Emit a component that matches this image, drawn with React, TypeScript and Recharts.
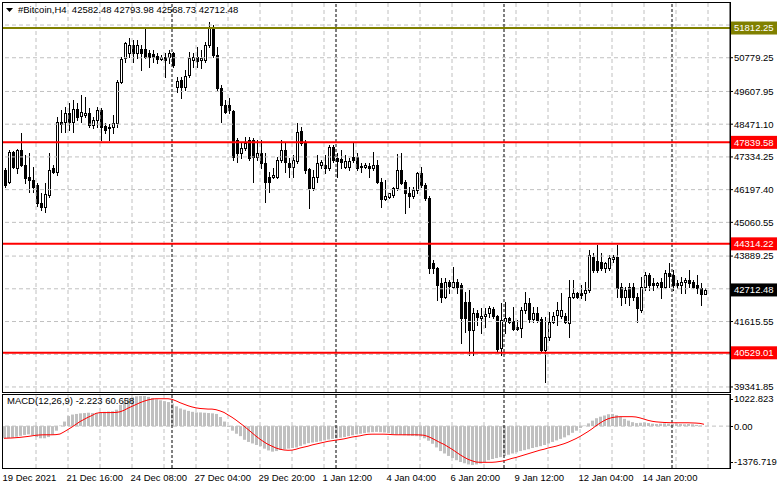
import { ComposedChart, Bar, Line, XAxis, YAxis, ReferenceLine } from 'recharts';

const opens = [
  46879, 46462, 47505, 46949, 47574, 47053, 46636, 46532, 46358, 45733,
  45594, 46011, 46949, 46810, 48547, 48547, 48859, 48547, 48998, 48755,
  48790, 48859, 48442, 48616, 48964, 48408, 48373, 48373, 48512, 49936,
  50770, 50944, 51222, 50944, 51083, 51083, 50944, 50909, 50840, 50735,
  50805, 50805, 50944, 49763, 50006, 49763, 50180, 50701, 50805, 50701,
  50701, 51222, 51847, 50874, 49728, 49137, 49137, 48929, 47921, 47470,
  47643, 47921, 47921, 47331, 47470, 47122, 46636, 46636, 46636, 47227,
  47574, 47122, 46983, 47192, 48234, 47817, 46914, 46254, 46636, 47053,
  47053, 46949, 47678, 47296, 47261, 46983, 46983, 47331, 47331, 47018,
  46983, 47018, 46949, 47053, 46462, 45872, 45941, 46011, 46254, 46879,
  46462, 46080, 45976, 46184, 46775, 46358, 45906, 43648, 43475, 42954,
  42467, 42988, 42815, 42988, 42884, 42294, 42294, 41321, 41911, 41738,
  41807, 41911, 42050, 41807, 40695, 41633, 41738, 41633, 41425, 41390,
  42016, 42259, 41703, 41911, 41703, 40626, 41078, 41599, 41842, 41807,
  41807, 41564, 42467, 42606, 42606, 42606, 42710, 43857, 43718, 43683,
  43475, 43475, 43787, 43857, 42815, 42467, 42815, 42815, 42467, 42016,
  42815, 43231, 42954, 42884, 42988, 42815, 43301, 43231, 42954, 42884,
  42988, 43058, 42988, 42884, 42780, 42582.48,
];

const highs = [
  46949, 47574, 47539, 47609, 48165, 47400, 47470, 46983, 46428, 46080,
  46428, 47470, 47053, 48720, 48964, 49068, 49207, 49311, 49207, 49485,
  49415, 49033, 48720, 49068, 49033, 48512, 48477, 48790, 50006, 50805,
  51326, 51465, 51395, 51395, 51222, 51800, 51048, 51048, 50944, 50874,
  50944, 51048, 50978, 50110, 50110, 50353, 50978, 50944, 51152, 51048,
  51326, 52021, 51916, 51152, 49832, 49311, 49380, 48964, 47991, 47817,
  48026, 48026, 47991, 47921, 47921, 47470, 46810, 46949, 47331, 47921,
  47817, 47296, 47400, 48512, 48373, 47921, 46949, 46879, 47400, 47227,
  47400, 47748, 47748, 47470, 47574, 47400, 47296, 47852, 47470, 47122,
  47122, 47122, 47505, 47227, 46601, 46532, 46080, 46289, 47435, 47470,
  46532, 46289, 46289, 46810, 46983, 46428, 45976, 43753, 43509, 43127,
  43127, 43058, 43509, 43092, 42954, 42641, 42710, 42085, 42016, 42085,
  42085, 42155, 42120, 41842, 42259, 42294, 41772, 42120, 41668, 42120,
  42641, 42432, 42120, 42120, 41772, 41772, 41946, 41946, 42294, 42606,
  41911, 43058, 43058, 42641, 42884, 42988, 44100, 43996, 44274, 43996,
  43683, 43926, 43926, 44274, 42954, 42815, 42954, 42954, 42606, 43162,
  43336, 43301, 43127, 42988, 43127, 43405, 43648, 43405, 43058, 43162,
  43127, 43405, 43058, 43231, 42954, 42793.98,
];

const lows = [
  46289, 46428, 46949, 46775, 47018, 46428, 46115, 46115, 45620, 45490,
  45420, 45941, 46775, 46705, 48199, 48199, 48269, 48199, 48616, 48547,
  48720, 48373, 48338, 48373, 47921, 48165, 47921, 48165, 48373, 49902,
  50631, 50805, 50631, 50770, 50353, 50770, 50457, 50631, 50596, 50701,
  50110, 50596, 50457, 49589, 49380, 49658, 50110, 50457, 50457, 50423,
  50631, 51152, 50805, 49658, 48547, 48859, 48859, 47227, 47157, 47296,
  47574, 47227, 46462, 47227, 46949, 45768, 46115, 46601, 46601, 47157,
  46810, 46636, 46636, 47122, 47748, 46775, 45559, 46184, 46462, 46949,
  46775, 46879, 47157, 46636, 46949, 46949, 46879, 47157, 46879, 46810,
  46949, 46636, 46879, 46428, 45594, 45837, 45906, 45941, 46184, 46393,
  45385, 45594, 45906, 46080, 46289, 45837, 43301, 43301, 42363, 42294,
  42432, 42606, 42780, 42606, 40869, 41251, 40452, 40452, 41494, 41217,
  41425, 41772, 41738, 40557, 40452, 41217, 41564, 41321, 41321, 41078,
  41911, 41599, 41599, 41599, 40591, 39514, 40973, 41564, 41494, 41738,
  41564, 41078, 42432, 42432, 42432, 42363, 42641, 43336, 43336, 43405,
  43336, 43405, 43683, 42467, 42189, 42259, 42189, 42363, 41599, 41946,
  42710, 42710, 42710, 42815, 42432, 42780, 42815, 42710, 42780, 42606,
  42606, 42815, 42780, 42606, 42189, 42568.73,
];

const closes = [
  46358, 47505, 46983, 47574, 47053, 46601, 46532, 46289, 45733, 45594,
  46045, 46879, 46810, 48547, 48477, 48859, 48547, 48998, 48720, 48894,
  48859, 48442, 48616, 48964, 48373, 48269, 48338, 48512, 49936, 50735,
  51291, 51222, 50944, 51222, 50944, 50805, 50805, 50805, 50735, 50805,
  50701, 50944, 50527, 49971, 49763, 50145, 50770, 50805, 50666, 50770,
  51222, 51847, 50874, 49728, 49137, 48894, 48964, 47331, 47470, 47643,
  47817, 47296, 47331, 47470, 47122, 46462, 46462, 46705, 47227, 47574,
  47157, 46983, 47227, 48199, 47817, 46879, 46254, 46636, 47122, 47157,
  46949, 47678, 47227, 47192, 47157, 47192, 47192, 47227, 46949, 46983,
  47053, 46949, 47053, 46462, 45872, 45976, 46080, 46254, 46879, 46428,
  46080, 45976, 46184, 46775, 46358, 45906, 43475, 43475, 42884, 42467,
  42988, 42849, 42988, 42815, 41738, 41738, 41321, 41911, 41772, 41807,
  41877, 42085, 41807, 40661, 41668, 41738, 41599, 41356, 41356, 42016,
  42259, 41703, 41911, 41668, 40626, 41078, 41599, 41807, 42016, 42016,
  41599, 42467, 42606, 42467, 42537, 42710, 43926, 43405, 43405, 43475,
  43648, 43822, 43857, 42780, 42467, 42710, 42467, 42467, 42085, 42815,
  43231, 42884, 42884, 42954, 42815, 43301, 43197, 42884, 42884, 42988,
  43058, 42954, 42815, 42780, 42571, 42712.48,
];

// MACD(12,26,9): main drawn as histogram, signal as red line
const macdMain = [
  -400, -390, -380, -350, -320, -290, -270, -300, -360, -400,
  -400, -360, -280, -150, 20, 150, 330, 380, 400, 420,
  430, 440, 430, 420, 440, 470, 480, 490, 540, 700,
  820, 900, 950, 980, 990, 990, 960, 920, 880, 850,
  820, 790, 740, 650, 580, 540, 500, 470, 450, 450,
  440, 430, 420, 400, 300, 150, -30, -150, -250, -330,
  -450, -520, -570, -620, -660, -740, -800, -840, -820, -780,
  -760, -740, -720, -700, -650, -600, -560, -540, -520, -500,
  -470, -440, -420, -400, -380, -360, -330, -300, -270, -250,
  -230, -210, -200, -190, -200, -210, -230, -260, -280, -290,
  -300, -310, -320, -330, -340, -400, -480, -580, -700, -820,
  -900, -980, -1050, -1120, -1180, -1220, -1260, -1280, -1260, -1230,
  -1180, -1120, -1080, -1050, -1020, -980, -940, -900, -860, -820,
  -790, -760, -720, -690, -660, -620, -570, -520, -470, -420,
  -370, -300, -220, -150, -60, 20, 90, 180, 260, 310,
  350, 390, 400, 360, 300, 240, 180, 130, 100, 110,
  120, 100, 80, 70, 80, 90, 80, 70, 80, 70,
  60, 70, 60, 40, 20, -2.223,
];

const macdSignal = [
  -400, -395, -390, -380, -370, -355, -340, -320, -300, -290,
  -285, -285, -285, -280, -260, -190, -110, -30, 60, 150,
  220, 290, 350, 420, 445, 445, 445, 445, 450, 470,
  520, 590, 650, 710, 770, 820, 860, 890, 900, 900,
  900, 900, 880, 830, 770, 720, 670, 630, 600, 580,
  570, 560, 560, 540, 500, 450, 370, 290, 200, 100,
  0, -110, -220, -330, -430, -520, -600, -660, -720, -760,
  -785, -795, -790, -760, -720, -690, -660, -620, -590, -560,
  -530, -500, -480, -460, -440, -420, -390, -360, -340, -320,
  -290, -270, -265, -265, -265, -265, -270, -280, -285, -285,
  -285, -285, -285, -285, -290, -300, -340, -400, -470, -540,
  -600, -680, -760, -850, -940, -1020, -1090, -1140, -1180, -1190,
  -1190, -1190, -1190, -1180, -1160, -1140, -1100, -1060, -1030, -990,
  -950, -910, -870, -830, -790, -760, -720, -690, -660, -620,
  -580, -530, -470, -410, -340, -260, -180, -90, 10, 100,
  180, 240, 280, 300, 310, 310, 310, 310, 300, 270,
  230, 190, 160, 140, 130, 120, 115, 110, 110, 110,
  110, 110, 105, 100, 90, 60.658,
];

const timeLabels = [
  '19 Dec 2021', '21 Dec 16:00', '24 Dec 08:00', '27 Dec 04:00', '29 Dec 20:00',
  '1 Jan 12:00', '4 Jan 04:00', '6 Jan 20:00', '9 Jan 12:00', '12 Jan 04:00', '14 Jan 20:00',
];
const timeLabelIdx = [0, 16, 32, 48, 64, 80, 96, 112, 128, 144, 160];
const weekStartIdx = [42, 83, 125, 167];
const gridIdx = [8, 16, 24, 32, 40, 48, 56, 64, 72, 80, 88, 96, 104, 112, 120, 128, 136, 144, 152, 160, 168, 176];
const SLOTS = 182; // chart shift: empty bars on the right

const gridPrices = [51916.1, 50779.25, 49607.95, 48471.1, 47334.25, 46197.4, 45060.55, 43889.25, 42752.4, 41615.55, 40478.7, 39341.85];
const priceTicks = [50779.25, 49607.95, 48471.1, 47334.25, 46197.4, 45060.55, 43889.25, 41615.55, 40478.7, 39341.85];
const levelPrices = [51812.25, 47839.58, 44314.22, 40529.01];
const lastPrice = 42712.48;
const macdTicks = [1022.823, 0, -1376.719];

const levelColors = ['#808000', '#ff0000', '#ff0000', '#ff0000'];
const FONT = '"Liberation Sans", Arial, sans-serif';
const FS = 9.5;
const GRID = '#c0c0c0';

const data = Array.from({ length: SLOTS }, (_, i) =>
  i < closes.length
    ? { i, open: opens[i], high: highs[i], low: lows[i], close: closes[i], macd: macdMain[i], signal: macdSignal[i] }
    : { i },
);

function Candle(props: any) {
  const { x, y, width, height, payload } = props;
  if (payload == null || payload.open == null) return null;
  const { open, high, low, close } = payload;
  const cx = Math.round(x + width / 2);
  const top = Math.min(y, y + height);
  const h = Math.abs(height);
  const py = (v: number) => (high === low ? top : top + ((high - v) / (high - low)) * h);
  const bTop = Math.round(py(Math.max(open, close)));
  const bBot = Math.round(py(Math.min(open, close)));
  const up = close >= open;
  return (
    <g shapeRendering="crispEdges">
      <line x1={cx + 0.5} x2={cx + 0.5} y1={Math.round(top)} y2={Math.round(top + h) + 1} stroke="#000" />
      {up ? (
        <rect x={cx - 0.5} y={bTop + 0.5} width={2} height={Math.max(bBot - bTop, 1)} fill="#fff" stroke="#000" />
      ) : (
        <rect x={cx - 1} y={bTop} width={3} height={Math.max(bBot - bTop, 1) + 1} fill="#000" />
      )}
    </g>
  );
}

function PriceTick(props: any) {
  const { x, y, payload } = props;
  const v = payload.value;
  const li = levelPrices.indexOf(v);
  const txt = v.toFixed(2);
  if (li >= 0 || v === lastPrice) {
    const bg = li >= 0 ? levelColors[li] : '#000';
    return (
      <g>
        <rect x={x - 3} y={y - 6.5} width={46} height={13} fill={bg} />
        <text x={x} y={y} dy={3.4} fill="#fff" fontSize={FS} fontFamily={FONT}>{txt}</text>
      </g>
    );
  }
  return <text x={x} y={y} dy={3.4} fill="#000" fontSize={FS} fontFamily={FONT}>{txt}</text>;
}

function MacdTick(props: any) {
  const { x, y, payload } = props;
  const v = payload.value;
  const shift = v > 0 ? 4 : v < 0 ? -6 : 0;
  const yy = y + shift;
  return (
    <g>
      <line x1={x - 4} x2={x - 1} y1={Math.round(yy) + 0.5} y2={Math.round(yy) + 0.5} stroke="#000" />
      <text x={x} y={yy} dy={3.4} fill="#000" fontSize={FS} fontFamily={FONT}>{v === 0 ? '0.00' : String(v)}</text>
    </g>
  );
}

function TimeTick(props: any) {
  const { x, y, payload } = props;
  const k = timeLabelIdx.indexOf(payload.value);
  if (k < 0) return null;
  return (
    <text x={x - 1.5} y={y} dy={5} fill="#000" fontSize={FS} fontFamily={FONT} textAnchor="start">{timeLabels[k]}</text>
  );
}

export default function App() {
  return (
    <div style={{ position: 'absolute', left: 0, top: 0, width: 781, height: 489, background: '#fff', fontFamily: FONT, overflow: 'hidden' }}>
      <div style={{ position: 'absolute', left: 0, top: 0 }}>
        <ComposedChart width={781} height={393} data={data} margin={{ top: 2, right: 0, bottom: 1, left: 2 }}>
          <XAxis dataKey="i" type="category" hide />
          <YAxis
            orientation="right"
            width={51}
            type="number"
            domain={[39167, 52716]}
            allowDataOverflow
            ticks={[...priceTicks, lastPrice, ...levelPrices]}
            interval={0}
            tickSize={3}
            tickMargin={1}
            tickLine={{ stroke: '#000' }}
            axisLine={{ stroke: '#000' }}
            tick={<PriceTick />}
          />
          {gridPrices.map((p) => (
            <ReferenceLine key={'gp' + p} y={p} stroke={GRID} strokeDasharray="4 3" />
          ))}
          {gridIdx.map((i) => (
            <ReferenceLine key={'gx' + i} x={i} stroke={GRID} strokeDasharray="4 3" />
          ))}
          {weekStartIdx.map((i) => (
            <ReferenceLine key={'w' + i} x={i} stroke="#000" strokeDasharray="3 2" />
          ))}
          <Bar
            dataKey={(d: any) => (d.low == null ? null : [d.low, d.high])}
            barSize={3}
            shape={(p: any) => <Candle {...p} />}
            isAnimationActive={false}
          />
          {levelPrices.map((p, k) => (
            <ReferenceLine key={'lv' + p} y={p} stroke={levelColors[k]} strokeWidth={2} />
          ))}
        </ComposedChart>
      </div>

      <div style={{ position: 'absolute', left: 0, top: 393 }}>
        <ComposedChart width={781} height={96} data={data} margin={{ top: 2, right: 0, bottom: 0, left: 2 }}>
          <XAxis
            dataKey="i"
            type="category"
            height={21}
            ticks={timeLabelIdx}
            interval={0}
            tickLine={false}
            axisLine={false}
            tick={<TimeTick />}
          />
          <YAxis
            orientation="right"
            width={51}
            type="number"
            domain={[-1376.719, 1022.823]}
            allowDataOverflow
            ticks={macdTicks}
            interval={0}
            tickSize={3}
            tickMargin={1}
            tickLine={false}
            axisLine={{ stroke: '#000' }}
            tick={<MacdTick />}
          />
          <ReferenceLine y={0} stroke={GRID} strokeDasharray="4 3" />
          {gridIdx.map((i) => (
            <ReferenceLine key={'mgx' + i} x={i} stroke={GRID} strokeDasharray="4 3" />
          ))}
          {weekStartIdx.map((i) => (
            <ReferenceLine key={'mw' + i} x={i} stroke="#000" strokeDasharray="3 2" />
          ))}
          <Bar dataKey="macd" fill="#c0c0c0" barSize={3} isAnimationActive={false} />
          <Line type="linear" dataKey="signal" stroke="#ff0000" strokeWidth={1} dot={false} isAnimationActive={false} />
        </ComposedChart>
      </div>

      {/* panel frames */}
      <div style={{ position: 'absolute', left: 2, top: 2, width: 729, height: 391, border: '1px solid #000', boxSizing: 'border-box', pointerEvents: 'none' }} />
      <div style={{ position: 'absolute', left: 2, top: 394, width: 729, height: 75, border: '1px solid #000', boxSizing: 'border-box', pointerEvents: 'none' }} />

      {/* title */}
      <svg style={{ position: 'absolute', left: 6, top: 8 }} width={8} height={6}>
        <polygon points="0,0 7,0 3.5,4" fill="#000" />
      </svg>
      <div style={{ position: 'absolute', left: 18, top: 4, fontSize: FS, lineHeight: '12px', whiteSpace: 'pre', color: '#000' }}>
        {'#Bitcoin,H4  42582.48 42793.98 42568.73 42712.48'}
      </div>
      <div style={{ position: 'absolute', left: 7, top: 395, fontSize: FS, lineHeight: '12px', whiteSpace: 'pre', color: '#000' }}>
        {'MACD(12,26,9) -2.223 60.658'}
      </div>
    </div>
  );
}
